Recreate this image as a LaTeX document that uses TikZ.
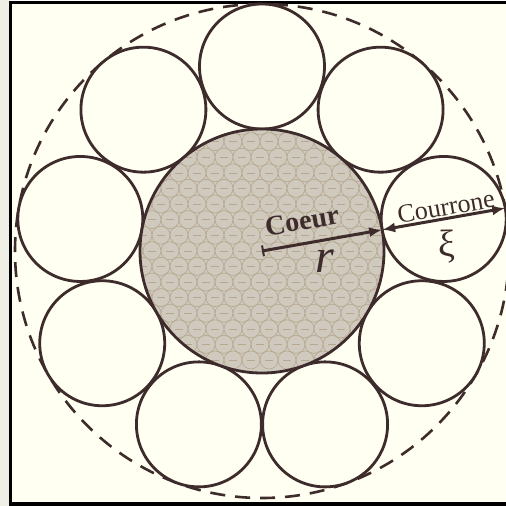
\documentclass[tikz,border=0pt]{standalone}
\usepackage{fontspec}
\setmainfont{Liberation Serif}
\usetikzlibrary{arrows.meta}
\definecolor{ink}{HTML}{3E2C2C}
\definecolor{bgc}{HTML}{FFFFF2}
\definecolor{shadowc}{HTML}{EFEFE6}
\definecolor{corefill}{HTML}{D0C9BD}
\definecolor{patc}{HTML}{B5A88F}
\tikzset{
  ring/.style={circle, draw=ink, line width=2.8pt, fill=bgc, minimum size=125pt, inner sep=0pt},
  hull/.style={draw=ink, line width=2.6pt, dash pattern=on 15pt off 10pt},
  pat/.style={draw=patc, line width=0.6pt},
  arr/.style={draw=ink, line width=3pt},
  lbl/.style={text=ink, inner sep=0pt}
}
\begin{document}
\begin{tikzpicture}[x=1pt,y=-1pt]
\useasboundingbox (0,0) rectangle (506,506);
\fill[shadowc] (0,0) rectangle (10,506);
\fill[bgc] (10,2) rectangle (506,504);
\draw[black, line width=3pt] (10.5,506) -- (10.5,2.5) -- (506,2.5);
\draw[black, line width=4pt] (10,504) -- (506,504);
% outer dashed hull
\coordinate (c) at (262,251);
\draw[hull] (c) circle (247);
% crown circles
\foreach \k in {0,...,8} {
  \node[ring] (s\k) at ({262+184.5*cos(90-40*\k)}, {251-184.5*sin(90-40*\k)}) {};
}
% core
\begin{scope}
  \clip (c) circle (122);
  \fill[corefill] (c) circle (122);
  \foreach \i in {0,...,15} {
    \foreach \j in {0,...,14} {
      \draw[pat] ({134+18*\j+9*mod(\i,2)}, {126+15.6*\i}) circle (9);
      \draw[pat] ({130+18*\j+9*mod(\i,2)}, {126+15.6*\i}) -- ++(8,0);
    }
  }
\end{scope}
\draw[ink, line width=2.8pt] (c) circle (122);
\node[circle, minimum size=244pt, inner sep=0pt] (core) at (c) {};
\coordinate (e) at ({262+122*cos(10)}, {251-122*sin(10)});
\coordinate (o) at ({262+247*cos(10)}, {251-247*sin(10)});
\draw[arr, {Bar[width=11pt,line width=2pt]}-{Latex[length=13pt,width=10pt]}] (c) -- (e);
\draw[arr, {Latex[length=13pt,width=10pt]}-{Latex[length=13pt,width=10pt]}] (e) -- (o);
\node[lbl, rotate=10, font=\bfseries\fontsize{28}{28}\selectfont] (coeur) at (302,221) {Coeur};
\node[lbl, rotate=10, font=\fontsize{26}{26}\selectfont] (cour) at (446,207) {Courrone};
\node[lbl, font=\itshape\fontsize{48}{48}\selectfont] (r) at (325,261) {r};
\node[lbl, font=\fontsize{38}{38}\selectfont] (xi) at (447,247) {ξ};
\end{tikzpicture}
\end{document}
